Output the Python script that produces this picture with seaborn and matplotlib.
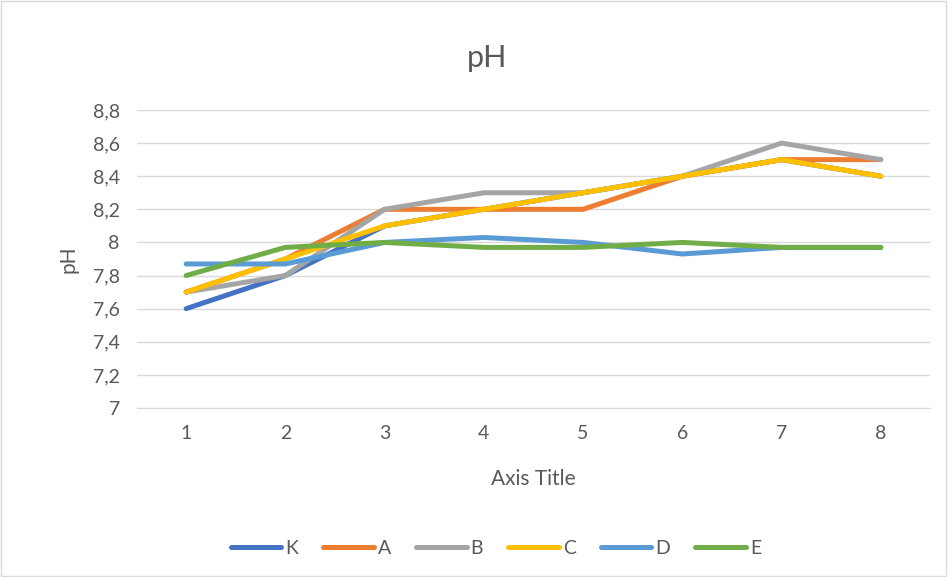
import pandas as pd
import seaborn as sns
import matplotlib.pyplot as plt
from matplotlib.ticker import FuncFormatter
from matplotlib.patches import Rectangle

days = [1, 2, 3, 4, 5, 6, 7, 8]
K = [7.6, 7.8, 8.1, 8.2, 8.3, 8.4, 8.5, 8.4]
A = [7.7, 7.9, 8.2, 8.2, 8.2, 8.4, 8.5, 8.5]
B = [7.7, 7.8, 8.2, 8.3, 8.3, 8.4, 8.6, 8.5]
C = [7.7, 7.9, 8.1, 8.2, 8.3, 8.4, 8.5, 8.4]
D = [7.87, 7.87, 8.0, 8.03, 8.0, 7.93, 7.97, 7.97]
E = [7.8, 7.97, 8.0, 7.97, 7.97, 8.0, 7.97, 7.97]

series = {'K': K, 'A': A, 'B': B, 'C': C, 'D': D, 'E': E}
colors = ['#4472C4', '#ED7D31', '#A5A5A5', '#FFC000', '#5B9BD5', '#70AD47']

rows = []
for name, vals in series.items():
    for d, v in zip(days, vals):
        rows.append({'day': d, 'pH': v, 'group': name})
df = pd.DataFrame(rows)

sns.set_style('white')
plt.rcParams['font.family'] = ['Lato', 'DejaVu Sans']
grey = '#595959'

fig = plt.figure(figsize=(9.48, 5.77), dpi=100)
ax = fig.add_axes([0.144, 0.2929, 0.8375, 0.5165])

sns.lineplot(data=df, x='day', y='pH', hue='group', palette=colors,
             linewidth=3.6, ax=ax, legend=True, solid_capstyle='round')

ax.set_xlim(0.5, 8.5)
ax.set_ylim(7, 8.8)
ax.set_xticks(days)
ax.set_yticks([7 + 0.2 * i for i in range(10)])
ax.yaxis.set_major_formatter(FuncFormatter(lambda v, p: ('%g' % round(v, 1)).replace('.', ',')))
ax.grid(axis='y', color='#d9d9d9', linewidth=1)
ax.set_axisbelow(True)
for s in ['top', 'right', 'left']:
    ax.spines[s].set_visible(False)
ax.spines['bottom'].set_color('#d9d9d9')
ax.tick_params(axis='both', length=0, labelsize=14, colors=grey, pad=12)
ax.tick_params(axis='y', pad=12)

ax.set_xlabel('Axis Title', fontsize=15, color=grey, labelpad=20)
ax.set_ylabel('pH', fontsize=15, color=grey, labelpad=10)
fig.text(0.514, 0.9, 'pH', fontsize=22, color=grey, ha='center', va='center')

leg = ax.legend(loc='center', bbox_to_anchor=(0.523, 0.05), bbox_transform=fig.transFigure,
                ncol=6, frameon=False, handlelength=2.6, columnspacing=1.3,
                handletextpad=0.2, fontsize=14)
for t in leg.get_texts():
    t.set_color(grey)
for h in leg.get_lines():
    h.set_linewidth(3.6)
    h.set_solid_capstyle('round')

fig.patches.append(Rectangle((0.001, 0.001), 0.997, 0.997, transform=fig.transFigure,
                             fill=False, edgecolor='#d9d9d9', linewidth=1))

fig.savefig('out.png', dpi=100)
